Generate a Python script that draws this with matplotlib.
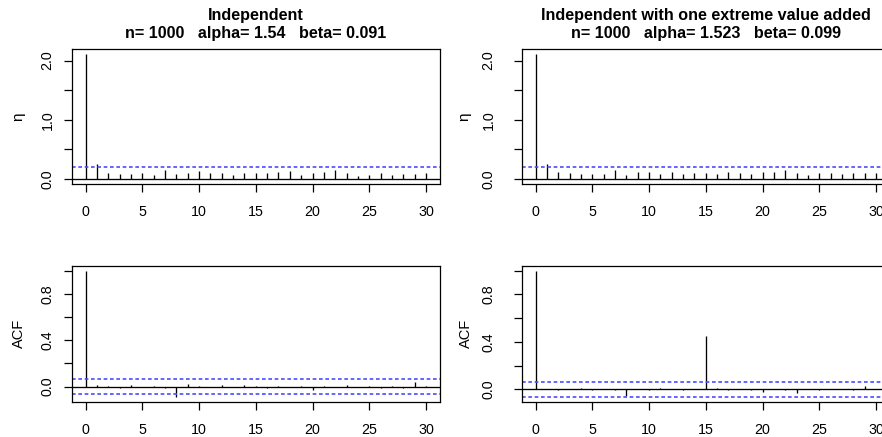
import numpy as np
import matplotlib
matplotlib.use("Agg")
import matplotlib.pyplot as plt

plt.rcParams['font.family'] = ['Liberation Sans', 'DejaVu Sans']

lags = np.arange(0, 31)

# extremogram values
eta_ind = [2.11, 0.26, 0.095, 0.08, 0.08, 0.107, 0.067, 0.146, 0.08, 0.095, 0.13,
           0.095, 0.10, 0.073, 0.095, 0.10, 0.095, 0.124, 0.13, 0.062, 0.095,
           0.11, 0.157, 0.10, 0.045, 0.067, 0.107, 0.073, 0.09, 0.09, 0.10]
eta_ext = [2.11, 0.26, 0.11, 0.095, 0.08, 0.08, 0.08, 0.15, 0.073, 0.124, 0.124,
           0.08, 0.11, 0.08, 0.095, 0.095, 0.09, 0.11, 0.107, 0.08, 0.11,
           0.11, 0.146, 0.095, 0.062, 0.095, 0.095, 0.08, 0.095, 0.107, 0.10]

# sample ACF
acf_ind = [1.0, 0.015, 0.005, -0.01, 0.015, -0.005, 0.008, -0.012, -0.087, 0.026, 0.006,
           -0.008, 0.01, -0.006, 0.012, 0.004, -0.01, 0.007, -0.005, 0.006, -0.03,
           0.008, -0.006, 0.01, -0.008, 0.005, -0.01, 0.008, -0.012, 0.038, 0.005]
acf_ext = [1.0, 0.004, -0.003, 0.006, 0.01, -0.004, 0.003, -0.005, -0.055, 0.004, -0.003,
           0.012, 0.002, -0.004, 0.006, 0.45, 0.01, -0.003, 0.004, -0.004, -0.02,
           0.003, -0.004, -0.034, 0.003, -0.004, 0.002, 0.004, -0.003, 0.028, 0.003]

eta_band = 0.196
acf_band = 0.062

titles = ["Independent", "Independent with one extreme value added"]
subtitles = ["n= 1000   alpha= 1.54   beta= 0.091",
             "n= 1000   alpha= 1.523   beta= 0.099"]

W, H = 882, 437
fig = plt.figure(figsize=(W / 100, H / 100), dpi=100)
BLUE = '#4b4bff'
DASH = (0, (2.2, 1.6))


def rrange(lo, hi):
    ext = (hi - lo) * 0.04
    return lo - ext, hi + ext


def panel(left, top, bottom, width, ytkpad):
    ax = fig.add_axes([left / W, 1 - bottom / H, width / W, (bottom - top) / H])
    for s in ax.spines.values():
        s.set_linewidth(0.9)
    ax.set_xlim(*rrange(0, 30))
    ax.set_xticks([0, 5, 10, 15, 20, 25, 30])
    ax.tick_params(direction='out', length=6, width=0.9, labelsize=10.3)
    ax.tick_params(axis='x', pad=9)
    ax.tick_params(axis='y', pad=ytkpad, labelrotation=90)
    return ax


cols = [(72, 6.5), (522, 13)]
for c in range(2):
    x0, ypad = cols[c]

    # top row: extremogram
    ax = panel(x0, 49, 184, 367.6, ypad)
    vals = eta_ind if c == 0 else eta_ext
    ax.vlines(lags, 0, vals, color='black', lw=0.95)
    ax.axhline(0, color='black', lw=0.95)
    ax.axhline(eta_band, color=BLUE, lw=1.2, ls=DASH)
    ax.set_ylim(*rrange(0, max(vals)))
    ax.set_yticks([0, 0.5, 1.0, 1.5, 2.0])
    ax.set_yticklabels(["0.0", "", "1.0", "", "2.0"])
    for t in ax.get_yticklabels():
        t.set_va('center')
    ax.text(-0.147 - 0.01 * c, 0.5, "η", transform=ax.transAxes, rotation=90,
            ha='center', va='center', fontsize=11)
    ax.text(0.5, 1.212, titles[c], transform=ax.transAxes, ha='center',
            va='baseline', fontsize=11.6, fontweight='bold')
    ax.text(0.5, 1.08, subtitles[c], transform=ax.transAxes, ha='center',
            va='baseline', fontsize=11.6, fontweight='bold')

    # bottom row: ACF
    ax = panel(x0, 265.5, 401.7, 367.6, ypad)
    vals = acf_ind if c == 0 else acf_ext
    ax.vlines(lags, 0, vals, color='black', lw=0.95)
    ax.axhline(0, color='black', lw=0.95)
    ax.axhline(acf_band, color=BLUE, lw=1.2, ls=DASH)
    ax.axhline(-acf_band, color=BLUE, lw=1.2, ls=DASH)
    ax.set_ylim(*rrange(min(min(vals), -acf_band), max(vals)))
    ax.set_yticks([0, 0.2, 0.4, 0.6, 0.8, 1.0])
    ax.set_yticklabels(["0.0", "", "0.4", "", "0.8", ""])
    for t in ax.get_yticklabels():
        t.set_va('center')
    ax.text(-0.143 - 0.01 * c, 0.5, "ACF", transform=ax.transAxes, rotation=90,
            ha='center', va='center', fontsize=10.5)

fig.savefig("out.png", dpi=100)
